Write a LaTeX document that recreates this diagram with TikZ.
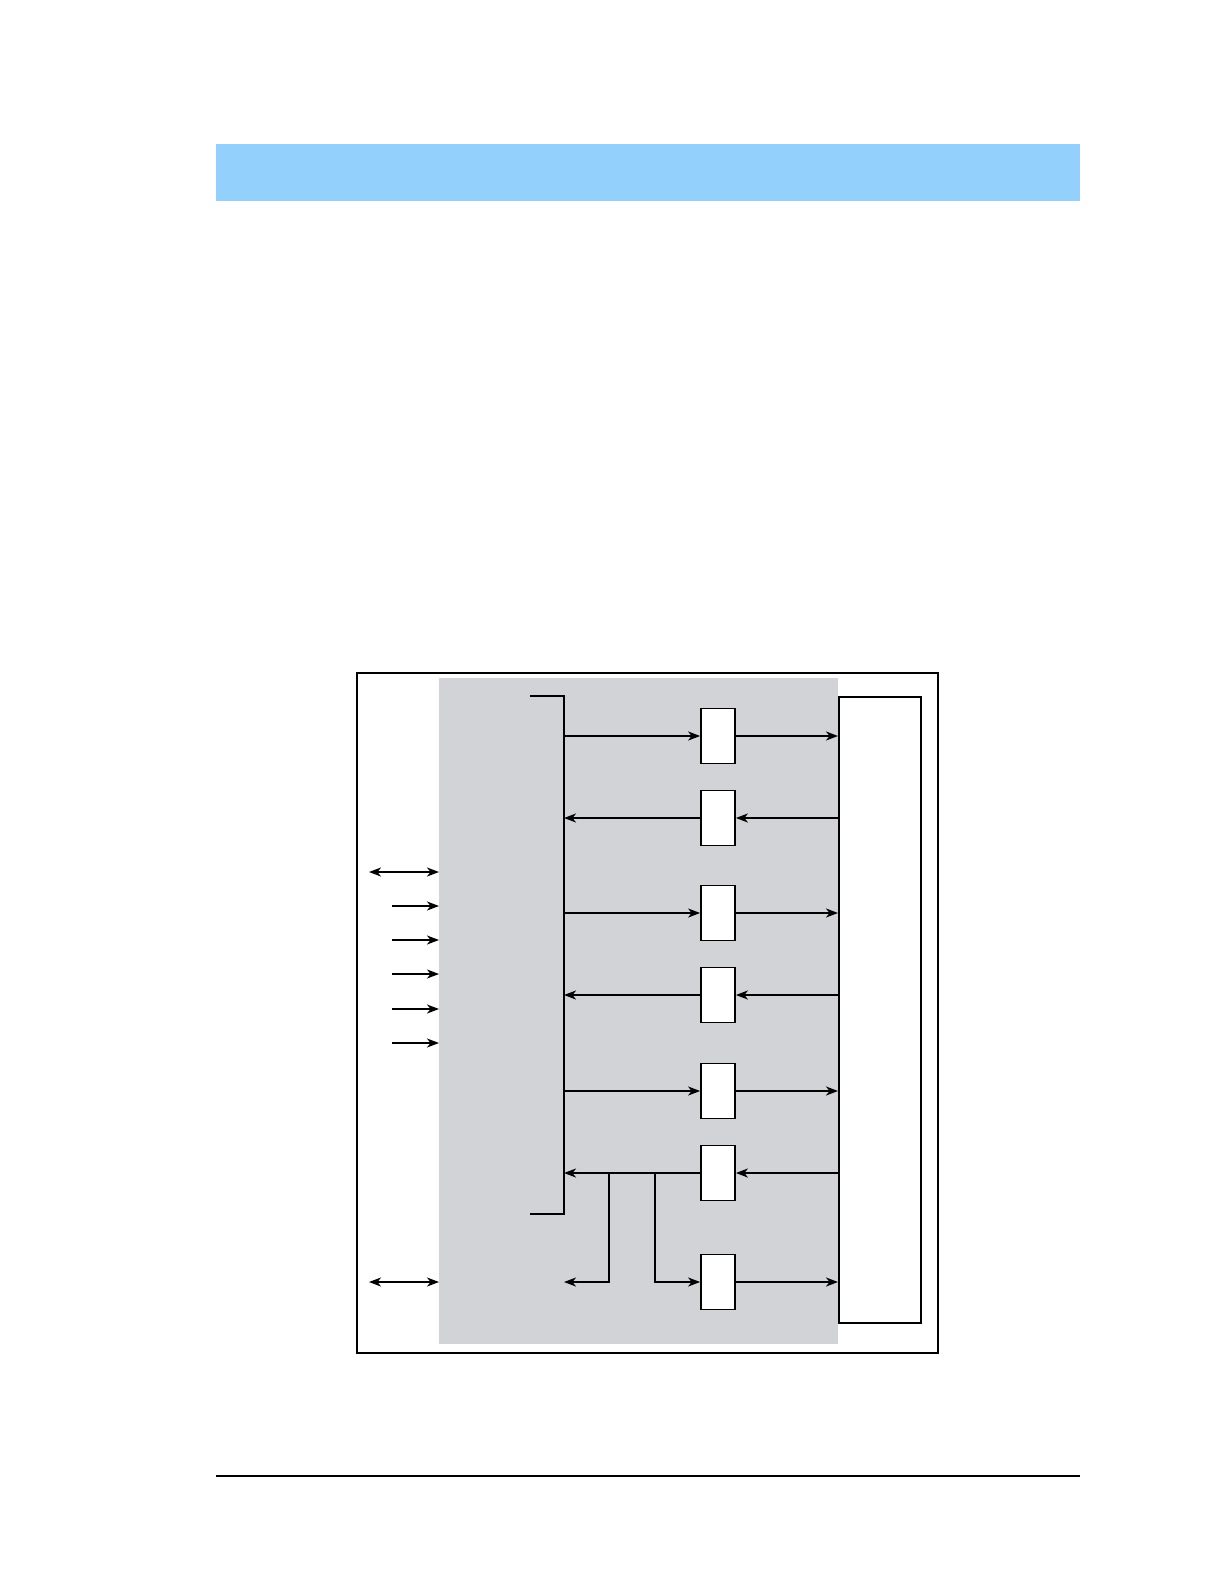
\documentclass[tikz,border=0pt]{standalone}
\usetikzlibrary{arrows.meta,positioning,calc}

\definecolor{headblue}{RGB}{148,208,252}
\definecolor{panelgray}{RGB}{210,211,214}

\begin{document}
\begin{tikzpicture}[x=0.02cm, y=-0.02cm,
  regbox/.style={draw, line width=1pt, fill=white, minimum width=6.8mm, minimum height=11mm, inner sep=0pt},
  arrow/.style={-{Stealth[length=2.4mm, width=1.8mm, inset=0.7mm]}, line width=1pt},
  dblarrow/.style={{Stealth[length=2.4mm, width=1.8mm, inset=0.7mm]}-{Stealth[length=2.4mm, width=1.8mm, inset=0.7mm]}, line width=1pt},
  bus/.style={line width=1pt}
]
\useasboundingbox (0,0) rectangle (1222,1584);

% page header band and footer rule
\fill[headblue] (216,144) rectangle (1080,201);
\draw[line width=1pt] (216,1476) -- (1080,1476);

% frame, shaded panel and device
\draw[line width=1.3pt] (357,673) rectangle (938,1353);
\fill[panelgray] (439,678) rectangle (838,1344);
\node[draw, line width=1.2pt, fill=white, anchor=north west, inner sep=0pt,
  minimum width=16.4mm, minimum height=125.2mm] (dev) at (838,696) {};

% internal bus
\coordinate (bus) at (564,696);
\draw[bus] (530,696) -- (bus) -- (564,1214) -- (530,1214);

% buffers
\foreach \name/\y in {b1/736, b2/818, b3/913, b4/995, b5/1091, b6/1173, b7/1282}
  \node[regbox] (\name) at (718,\y) {};

% outgoing paths
\foreach \name in {b1, b3, b5} {
  \draw[arrow] (\name.west -| bus) -- (\name.west);
  \draw[arrow] (\name.east) -- (\name.east -| dev.west);
}
% incoming paths
\foreach \name in {b2, b4, b6} {
  \draw[arrow] (\name.east -| dev.west) -- (\name.east);
  \draw[arrow] (\name.west) -- (\name.west -| bus);
}

% branches off the last input
\coordinate (j1) at (609,1173);
\coordinate (j2) at (655,1173);
\draw[arrow] (j1) -- (b7.west -| j1) -- (b7.west -| bus);
\draw[arrow] (j2) -- (b7.west -| j2) -- (b7.west);
\draw[arrow] (b7.east) -- (b7.east -| dev.west);

% external lines
\coordinate (panel) at (439,678);
\draw[dblarrow] (369,872) -- (panel |- 0,872);
\foreach \y in {906, 940, 1009, 1043}
  \draw[arrow] (392,\y) -- (panel |- 0,\y);
\draw[arrow, line width=0.6pt] (392,974) -- (panel |- 0,974);
\draw[dblarrow, line width=0.6pt] (369,1282) -- (panel |- b7.west);

\end{tikzpicture}
\end{document}
